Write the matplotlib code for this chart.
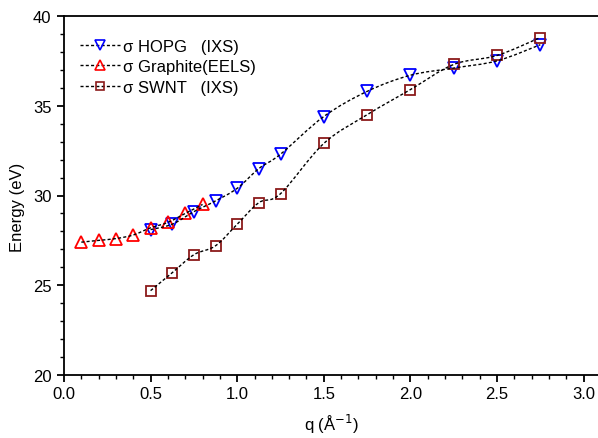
import numpy as np
import matplotlib
matplotlib.use("Agg")
import matplotlib.pyplot as plt
from matplotlib.path import Path
from matplotlib.patches import PathPatch
from matplotlib.lines import Line2D

plt.rcParams['font.family'] = ['Liberation Sans', 'DejaVu Sans']

q_hopg = [0.5, 0.625, 0.75, 0.875, 1.0, 1.125, 1.25, 1.5, 1.75, 2.0, 2.25, 2.5, 2.75]
e_hopg = [28.1, 28.4, 29.1, 29.7, 30.4, 31.5, 32.3, 34.4, 35.8, 36.7, 37.1, 37.5, 38.4]

q_eels = [0.1, 0.2, 0.3, 0.4, 0.5, 0.6, 0.7, 0.8]
e_eels = [27.4, 27.5, 27.6, 27.8, 28.2, 28.5, 29.0, 29.5]

q_swnt = [0.5, 0.625, 0.75, 0.875, 1.0, 1.125, 1.25, 1.5, 1.75, 2.0, 2.25, 2.5, 2.75]
e_swnt = [24.7, 25.7, 26.7, 27.2, 28.4, 29.6, 30.1, 32.9, 34.5, 35.9, 37.3, 37.8, 38.8]

labels = ['σ HOPG   (IXS)', 'σ Graphite(EELS)', 'σ SWNT   (IXS)']
x_ticks = [0.0, 0.5, 1.0, 1.5, 2.0, 2.5, 3.0]
y_ticks = [20, 25, 30, 35, 40]

fig = plt.figure(figsize=(5.98, 4.39), dpi=100)
ax = fig.add_axes([64/598, 1-376/439, 1-64/598, (376-17)/439])


def smooth_path(x, y):
    # Catmull-Rom spline through the data points expressed as cubic Bezier segments
    x = np.asarray(x, float); y = np.asarray(y, float)
    pts = np.column_stack([x, y])
    verts = [pts[0]]
    codes = [Path.MOVETO]
    n = len(pts)
    for i in range(n - 1):
        p0 = pts[i - 1] if i > 0 else pts[i]
        p1 = pts[i]
        p2 = pts[i + 1]
        p3 = pts[i + 2] if i + 2 < n else pts[i + 1]
        c1 = p1 + (p2 - p0) / 6.0
        c2 = p2 - (p3 - p1) / 6.0
        verts += [c1, c2, p2]
        codes += [Path.CURVE4] * 3
    return Path(verts, codes)


dash = (0, (2.2, 1.6))
for qx, ey in [(q_hopg, e_hopg), (q_eels, e_eels), (q_swnt, e_swnt)]:
    ax.add_patch(PathPatch(smooth_path(qx, ey), facecolor='none', edgecolor='black',
                           lw=1.0, linestyle=dash, zorder=3))

ax.plot(q_hopg, e_hopg, linestyle='none', marker='v', ms=9, mfc='none',
        mec='#0000ff', mew=1.3, zorder=2)
ax.plot(q_eels, e_eels, linestyle='none', marker='^', ms=9, mfc='none',
        mec='#ff0000', mew=1.3, zorder=2)
ax.plot(q_swnt, e_swnt, linestyle='none', marker='s', ms=7, mfc='none',
        mec='#8b1a1a', mew=1.3, zorder=2)

proxies = [
    Line2D([], [], color='black', lw=1.0, linestyle=dash, marker='v', ms=7, mfc='none', mec='#0000ff', mew=1.2),
    Line2D([], [], color='black', lw=1.0, linestyle=dash, marker='^', ms=7, mfc='none', mec='#ff0000', mew=1.2),
    Line2D([], [], color='black', lw=1.0, linestyle=dash, marker='s', ms=5.5, mfc='none', mec='#8b1a1a', mew=1.2),
]
ax.legend(proxies, labels, loc='upper left', frameon=False, fontsize=12,
          handlelength=2.4, handletextpad=0.2, labelspacing=0.34,
          borderaxespad=0, borderpad=0, bbox_to_anchor=(0.03, 0.937))

ax.set_xlim(0, (598 - 64) / 173.2)
ax.set_ylim(20, 40)
ax.set_xticks(x_ticks)
ax.set_xticks(np.arange(0, 3.05, 0.1), minor=True)
ax.set_yticks(y_ticks)
ax.set_yticks(np.arange(20, 40.1, 1), minor=True)
ax.xaxis.set_major_formatter(matplotlib.ticker.FormatStrFormatter('%.1f'))

ax.spines['right'].set_visible(False)
for s in ['left', 'bottom', 'top']:
    ax.spines[s].set_linewidth(1.3)
ax.tick_params(which='major', direction='out', length=5, width=1.3, labelsize=12,
               top=False, right=False)
ax.tick_params(which='minor', direction='out', length=3, width=1.0, top=False, right=False)
ax.tick_params(axis='x', pad=3)
ax.tick_params(axis='y', pad=4)

ax.set_xlabel('q (Å$^{-1}$)', fontsize=12, labelpad=8)
ax.set_ylabel('Energy (eV)', fontsize=12)
ax.yaxis.set_label_coords(-0.088, 0.47)
ax.yaxis.label.set_va('center')

fig.savefig('out.png', dpi=100)
